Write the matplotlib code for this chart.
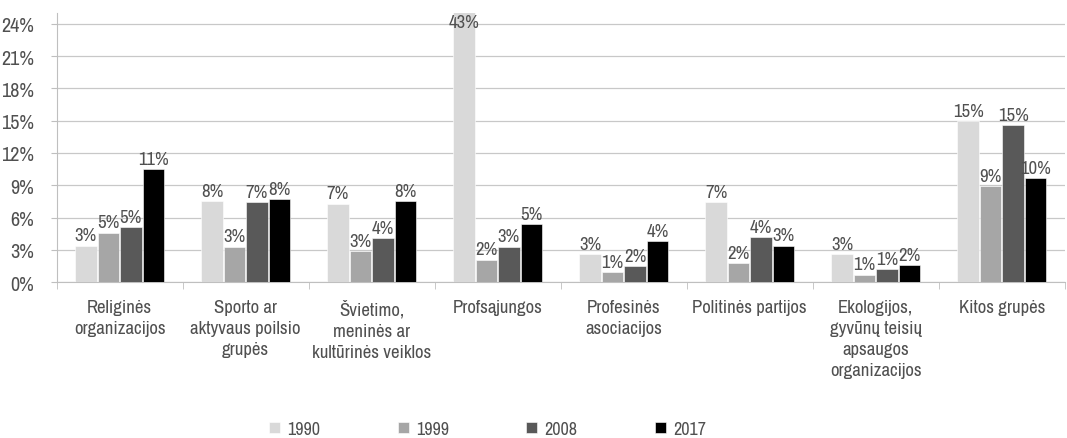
import matplotlib
matplotlib.use("Agg")
import matplotlib.pyplot as plt
import numpy as np
from matplotlib import font_manager

categories = ["Religinės\norganizacijos", "Sporto ar\naktyvaus poilsio\ngrupės",
              "Švietimo,\nmeninės ar\nkultūrinės veiklos", "Profsąjungos",
              "Profesinės\nasociacijos", "Politinės partijos",
              "Ekologijos,\ngyvūnų teisių\napsaugos\norganizacijos", "Kitos grupės"]
years = ["1990", "1999", "2008", "2017"]
v1990 = [3.4, 7.5, 7.3, 43.0, 2.6, 7.4, 2.6, 15.0]
v1999 = [4.6, 3.3, 2.9, 2.1, 0.9, 1.8, 0.7, 8.9]
v2008 = [5.1, 7.4, 4.1, 3.3, 1.5, 4.2, 1.2, 14.6]
v2017 = [10.5, 7.7, 7.5, 5.4, 3.8, 3.4, 1.6, 9.7]
labels1990 = ["3%", "8%", "7%", "43%", "3%", "7%", "3%", "15%"]
labels1999 = ["5%", "3%", "3%", "2%", "1%", "2%", "1%", "9%"]
labels2008 = ["5%", "7%", "4%", "3%", "2%", "4%", "1%", "15%"]
labels2017 = ["11%", "8%", "8%", "5%", "4%", "3%", "2%", "10%"]
yticks = [0, 3, 6, 9, 12, 15, 18, 21, 24]
ytick_labels = ["0%", "3%", "6%", "9%", "12%", "15%", "18%", "21%", "24%"]

series = [v1990, v1999, v2008, v2017]
series_labels = [labels1990, labels1999, labels2008, labels2017]
colors = ["#d9d9d9", "#a6a6a6", "#595959", "#000000"]

installed = {f.name for f in font_manager.fontManager.ttflist}
narrow = sorted(n for n in installed if ("Condensed" in n or "Narrow" in n) and "Mono" not in n and "Serif" not in n)
fam = narrow[:1] + [f for f in ["Roboto", "DejaVu Sans"] if f in installed]
plt.rcParams["font.family"] = fam
plt.rcParams["font.stretch"] = "condensed"
plt.rcParams["font.weight"] = "light"
txtc = "#505050"

fig = plt.figure(figsize=(10.67, 4.39), dpi=100)
ax = fig.add_axes([0.053, 0.355, 0.945, 0.613])
YMAX = 25
ax.set_ylim(0, YMAX)
n = len(categories)
x = np.arange(n)
ax.set_xlim(-0.5, n - 0.5)
bw = 0.17
for i, (vals, labs, c, yr) in enumerate(zip(series, series_labels, colors, years)):
    pos = x + (i - 1.5) * (bw + 0.008)
    ax.bar(pos, vals, width=bw, color=c, edgecolor="white", linewidth=0.4, label=yr, zorder=3)
    for p, v, l in zip(pos, vals, labs):
        yv = min(v, YMAX - 1.8)
        ax.text(p, yv + 0.2, l, ha="center", va="bottom", fontsize=13.5, color=txtc, zorder=4)

ax.set_yticks(yticks)
ax.set_yticklabels(ytick_labels, fontsize=14.5, color=txtc)
ax.grid(axis="y", color="#c8c8c8", linewidth=0.9, zorder=0)
ax.set_axisbelow(True)
for s in ["top", "right"]:
    ax.spines[s].set_visible(False)
ax.spines["left"].set_color("#bfbfbf")
ax.spines["bottom"].set_color("#bfbfbf")
ax.tick_params(axis="y", length=4, color="#bfbfbf", pad=12)
ax.set_xticks(x)
ax.set_xticklabels(categories, fontsize=13.5, color=txtc, linespacing=1.4, va="top")
ax.tick_params(axis="x", length=0, pad=12)
ax.set_xticks(np.arange(n + 1) - 0.5, minor=True)
ax.tick_params(axis="x", which="minor", length=5, color="#bfbfbf")

fig.legend(loc="lower center", bbox_to_anchor=(0.457, -0.035), ncol=4, frameon=False,
           fontsize=13, handlelength=0.6, handleheight=0.6, columnspacing=4.3, handletextpad=0.4,
           labelcolor=txtc)
fig.savefig("out.png", dpi=100, facecolor="white")
